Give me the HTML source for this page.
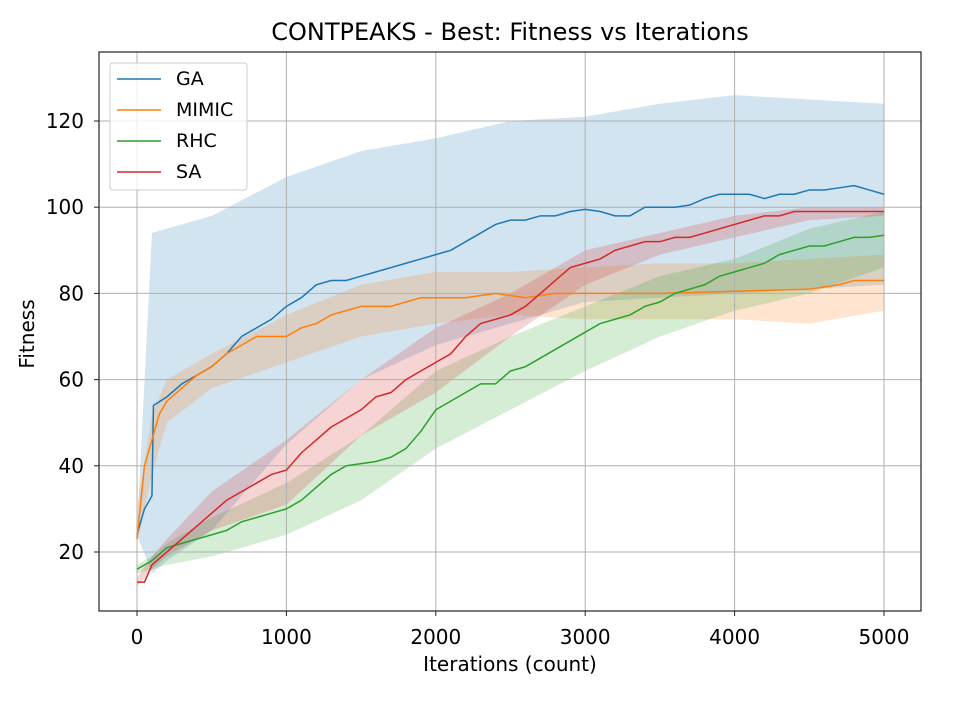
<!DOCTYPE html>
<html><head><meta charset="utf-8"><style>
body{margin:0;background:#fff}
svg text{font-family:"DejaVu Sans","Liberation Sans",sans-serif;fill:#000}
</style></head><body>
<svg id="chart" width="960" height="720" xmlns="http://www.w3.org/2000/svg">
<rect width="960" height="720" fill="#fff"/>
<g id="bands"></g>
<g id="grid"></g>
<g id="lines"></g>
<rect x="99" y="52" width="822" height="559" fill="none" stroke="#222" stroke-width="1.2"/>
<g id="ticks"></g>
<text x="510" y="40" text-anchor="middle" font-size="24">CONTPEAKS - Best: Fitness vs Iterations</text>
<text x="510" y="671" text-anchor="middle" font-size="20">Iterations (count)</text>
<text x="34" y="334" text-anchor="middle" font-size="20" transform="rotate(-90 34 334)">Fitness</text>
<g>
<rect x="110" y="63" width="137" height="127" rx="3" fill="#fff" fill-opacity="0.8" stroke="#ccc"/>
<line x1="117" y1="79" x2="161" y2="79" stroke="#1f77b4" stroke-width="1.5"/>
<text x="176" y="85" font-size="19">GA</text>
<line x1="117" y1="110" x2="161" y2="110" stroke="#ff7f0e" stroke-width="1.5"/>
<text x="176" y="116" font-size="19">MIMIC</text>
<line x1="117" y1="141" x2="161" y2="141" stroke="#2ca02c" stroke-width="1.5"/>
<text x="176" y="147" font-size="19">RHC</text>
<line x1="117" y1="172" x2="161" y2="172" stroke="#d62728" stroke-width="1.5"/>
<text x="176" y="178" font-size="19">SA</text>
</g>
</svg>
<script>
const xTicks=[0,1000,2000,3000,4000,5000];
const yTicks=[20,40,60,80,100,120];
const bandX=[0,100,200,500,1000,1500,2000,2500,3000,3500,4000,4500,5000];
const gaIt=[0,50,100,110,200,300,400,500,600,700,800,900,1000,1100,1200,1300,1400,1500,1600,1700,1800,1900,2000,2100,2200,2300,2400,2500,2600,2700,2800,2900,3000,3100,3200,3300,3400,3500,3600,3700,3800,3900,4000,4100,4200,4300,4400,4500,4600,4700,4800,4900,5000];
const gaMean=[24,30,33,54,56,59,61,63,66,70,72,74,77,79,82,83,83,84,85,86,87,88,89,90,92,94,96,97,97,98,98,99,99.5,99,98,98,100,100,100,100.5,102,103,103,103,102,103,103,104,104,104.5,105,104,103];
const gaLo=[24,15,18,25,45,60,68,73,78,79,80,81,82];
const gaHi=[25,94,95,98,107,113,116,120,121,124,126,125,124];
const miIt=[0,50,100,150,200,300,400,500,600,700,800,900,1000,1100,1200,1300,1400,1500,1600,1700,1800,1900,2000,2200,2400,2600,2800,3000,3200,3500,4000,4500,4700,4800,5000];
const miMean=[23,40,46,52,55,58,61,63,66,68,70,70,70,72,73,75,76,77,77,77,78,79,79,79,80,79,80,80,80,80,80.5,81,82,83,83];
const miLo=[22,38,50,58,64,70,73,75,74,74,74,73,76];
const miHi=[30,52,60,66,75,82,85,85,86,87,87,88,89];
const rhIt=[0,100,200,300,400,500,600,700,800,900,1000,1100,1200,1300,1400,1500,1600,1700,1800,1900,2000,2100,2200,2300,2400,2500,2600,2700,2800,2900,3000,3100,3200,3300,3400,3500,3600,3700,3800,3900,4000,4100,4200,4300,4400,4500,4600,4700,4800,4900,5000];
const rhMean=[16,18,21,22,23,24,25,27,28,29,30,32,35,38,40,40.5,41,42,44,48,53,55,57,59,59,62,63,65,67,69,71,73,74,75,77,78,80,81,82,84,85,86,87,89,90,91,91,92,93,93,93.5];
const rhLo=[15,16,17,19,24,32,44,53,62,70,76,80,86];
const rhHi=[17,19,22,28,36,47,62,70,77,84,88,95,99];
const saIt=[0,50,100,200,300,400,500,600,700,800,900,1000,1100,1200,1300,1400,1500,1600,1700,1800,1900,2000,2100,2200,2300,2400,2500,2600,2700,2800,2900,3000,3100,3200,3300,3400,3500,3600,3700,3800,3900,4000,4100,4200,4300,4400,4500,5000];
const saMean=[13,13,17,20,23,26,29,32,34,36,38,39,43,46,49,51,53,56,57,60,62,64,66,70,73,74,75,77,80,83,86,87,88,90,91,92,92,93,93,94,95,96,97,98,98,99,99,99];
const saLo=[12,16,19,25,31,47,57,70,82,89,93,97,98];
const saHi=[14,19,23,34,46,60,72,80,90,94,98,100,100];

const NS="http://www.w3.org/2000/svg";
const X=v=>137+v*(884-137)/5000;
const Y=v=>552-(v-20)*(552-121)/100;
function mk(tag,attrs,parent){const e=document.createElementNS(NS,tag);for(const k in attrs)e.setAttribute(k,attrs[k]);parent.appendChild(e);return e;}
const grid=document.getElementById('grid'),ticks=document.getElementById('ticks');
xTicks.forEach(t=>{
  const g=mk('line',{x1:X(t),x2:X(t),y1:52,y2:611,stroke:'#b0b0b0','stroke-width':1},grid);
  
  
  const tk=mk('line',{x1:X(t),x2:X(t),y1:611,y2:616,stroke:'#222'},ticks);
  
  
  const tx=mk('text',{x:X(t),y:644,'text-anchor':'middle','font-size':20},ticks);
  tx.textContent=t;
  
  
});
yTicks.forEach(t=>{
  const g=mk('line',{x1:99,x2:921,y1:Y(t),y2:Y(t),stroke:'#b0b0b0','stroke-width':1},grid);
  
  
  const tk=mk('line',{x1:94,x2:99,y1:Y(t),y2:Y(t),stroke:'#222'},ticks);
  
  
  const tx=mk('text',{x:84,y:Y(t)+7,'text-anchor':'end','font-size':20},ticks);
  tx.textContent=t;
  
  
});
const series=[
 ['ga','#1f77b4',gaIt,gaMean,gaLo,gaHi],
 ['mimic','#ff7f0e',miIt,miMean,miLo,miHi],
 ['rhc','#2ca02c',rhIt,rhMean,rhLo,rhHi],
 ['sa','#d62728',saIt,saMean,saLo,saHi]];
const bands=document.getElementById('bands'),lines=document.getElementById('lines');
series.forEach(([n,c,it,m,lo,hi])=>{
  let pts=bandX.map((x,i)=>X(x)+','+Y(hi[i]));
  for(let i=bandX.length-1;i>=0;i--)pts.push(X(bandX[i])+','+Y(lo[i]));
  const b=mk('polygon',{points:pts.join(' '),fill:c,'fill-opacity':0.2},bands);
  
  
});
series.forEach(([n,c,it,m])=>{
  const l=mk('polyline',{points:it.map((x,i)=>X(x)+','+Y(m[i])).join(' '),fill:'none',stroke:c,'stroke-width':1.5},lines);
  
  
});
</script>
</body></html>
